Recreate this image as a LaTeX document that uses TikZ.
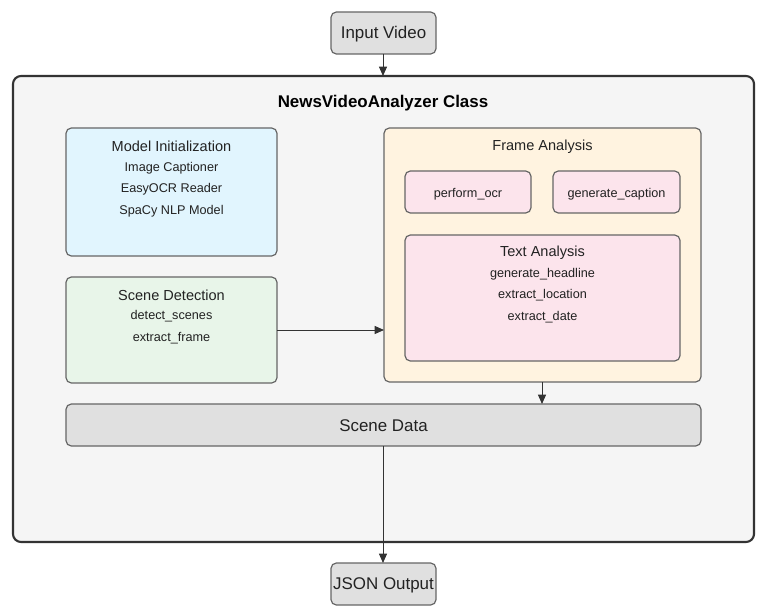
\documentclass[tikz,border=0pt]{standalone}
\usepackage{fontspec}
\setmainfont{Liberation Sans}
\usetikzlibrary{arrows.meta}
\definecolor{txt}{HTML}{222222}
\definecolor{grayfill}{HTML}{E0E0E0}
\definecolor{outerfill}{HTML}{F5F5F5}
\definecolor{bluefill}{HTML}{E1F5FE}
\definecolor{greenfill}{HTML}{E8F5E9}
\definecolor{orangefill}{HTML}{FFF3E0}
\definecolor{pinkfill}{HTML}{FCE4EC}
\definecolor{edgegray}{HTML}{666666}
\definecolor{darkline}{HTML}{333333}
\tikzset{
  px/.style={x=0.75pt,y=-0.75pt},
  boxstyle/.style={draw=edgegray, line width=0.9pt, rounded corners=4pt},
  bigtext/.style={font=\fontsize{12.7}{15}\selectfont, text=txt},
  headtext/.style={font=\fontsize{10.9}{13}\selectfont, text=txt},
  itemtext/.style={font=\fontsize{9.5}{11}\selectfont, text=txt},
  conn/.style={draw=darkline, line width=0.75pt, -{Triangle[length=7pt,width=6pt]}},
}
\begin{document}
\begin{tikzpicture}[px]
\useasboundingbox (0,0) rectangle (766,616);
% outer class box
\draw[draw=darkline, line width=1.6pt, fill=outerfill, rounded corners=6pt] (13,76) rectangle (754,542);
\node[font=\bfseries\fontsize{12.7}{15}\selectfont, text=black] (title) at (383,103) {NewsVideoAnalyzer Class};
% input / output
\draw[boxstyle, fill=grayfill] (331,12) rectangle (436,54);
\node[bigtext] (input) at (383.5,34) {Input Video};
\coordinate (inputB) at (383,54);
\coordinate (outerT) at (383,76);
\draw[boxstyle, fill=grayfill] (331,563) rectangle (436,605);
\node[bigtext] (json) at (383.5,585) {JSON Output};
\coordinate (jsonT) at (383,563);
% model init
\draw[boxstyle, fill=bluefill] (66,128) rectangle (277,256);
\node[headtext] (mi) at (171.5,146.5) {Model Initialization};
\node[itemtext] (mi1) at (171.5,168) {Image Captioner};
\node[itemtext] (mi2) at (171.5,189.5) {EasyOCR Reader};
\node[itemtext] (mi3) at (171.5,211) {SpaCy NLP Model};
% scene detection
\draw[boxstyle, fill=greenfill] (66,277) rectangle (277,383);
\node[headtext] (sd) at (171.5,295) {Scene Detection};
\node[itemtext] (sd1) at (171.5,316.5) {detect\_scenes};
\node[itemtext] (sd2) at (171.5,338) {extract\_frame};
\coordinate (sdR) at (277,330);
% frame analysis
\draw[boxstyle, fill=orangefill] (384,128) rectangle (701,382);
\node[headtext] (fa) at (542.5,146.5) {Frame Analysis};
\coordinate (faL) at (384,330);
\coordinate (faB) at (542,382);
\draw[boxstyle, fill=pinkfill] (405,171) rectangle (531,213);
\node[itemtext] (ocr) at (468,194.5) {perform\_ocr};
\draw[boxstyle, fill=pinkfill] (553,171) rectangle (680,213);
\node[itemtext] (cap) at (616.5,194.5) {generate\_caption};
\draw[boxstyle, fill=pinkfill] (405,235) rectangle (680,361);
\node[headtext] (ta) at (542.5,252.5) {Text Analysis};
\node[itemtext] (ta1) at (542.5,274) {generate\_headline};
\node[itemtext] (ta2) at (542.5,295.5) {extract\_location};
\node[itemtext] (ta3) at (542.5,317) {extract\_date};
% scene data
\draw[boxstyle, fill=grayfill] (66,404) rectangle (701,446);
\node[bigtext] (data) at (383.5,426) {Scene Data};
\coordinate (dataT) at (542,404);
\coordinate (dataB) at (383,446);
% connectors
\draw[conn] (inputB) -- (outerT);
\draw[conn] (sdR) -- (faL);
\draw[conn] (faB) -- (dataT);
\draw[conn] (dataB) -- (jsonT);
\end{tikzpicture}
\end{document}
